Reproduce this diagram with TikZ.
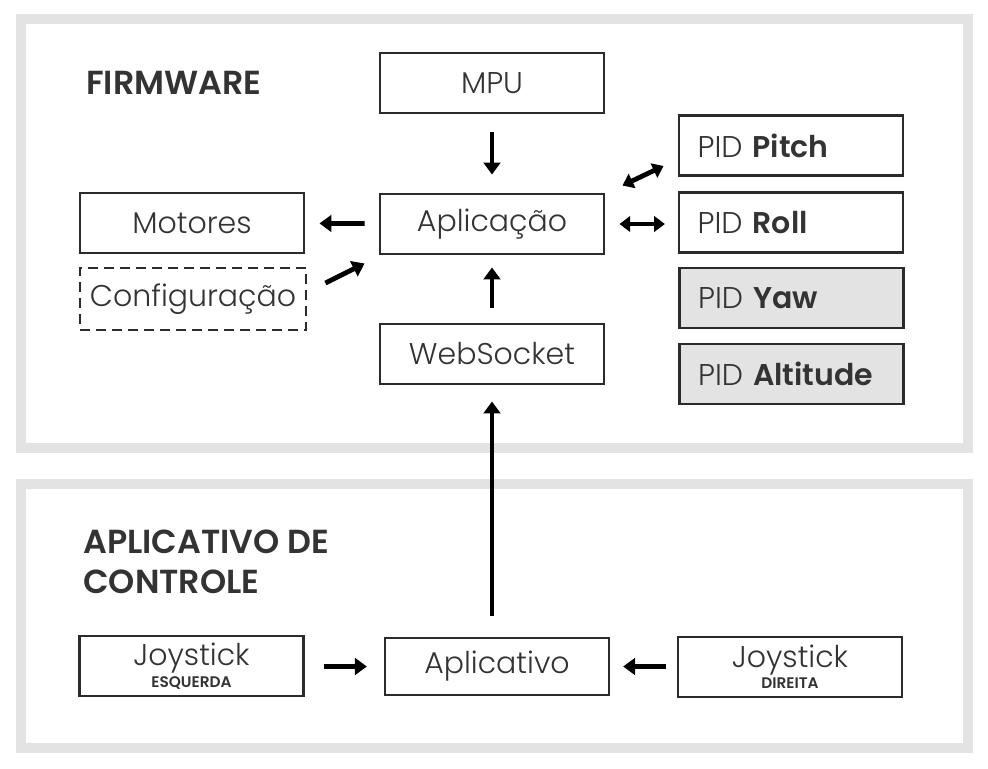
\documentclass[tikz,border=0pt]{standalone}
\usepackage{fontspec}
\setmainfont{Poppins}[UprightFont={* Light}, BoldFont={* SemiBold}]
\usepackage{tikz}
\usetikzlibrary{calc, arrows.meta}

\definecolor{panelgray}{HTML}{E3E3E3}
\definecolor{boxline}{HTML}{2B2B2B}
\definecolor{txt}{HTML}{333333}
\newcommand{\lado}[1]{{\fontsize{11.5}{12}\selectfont\bfseries #1}}

\begin{document}
\begin{tikzpicture}[x=0.75pt, y=-0.75pt,
    panel/.style={draw=panelgray, line width=7.5pt},
    block/.style={draw=boxline, line width=2.2pt, minimum width=168pt, minimum height=45pt,
        inner sep=0pt, text=txt, font=\fontsize{22.5}{26}\selectfont},
    pid/.style={block, text width=140pt, inner xsep=14pt, align=left},
    title/.style={text=txt, font=\fontsize{25}{30}\selectfont\bfseries, align=left, inner sep=0pt},
    arr/.style={line width=3.6pt, -{Triangle[length=9pt, width=12.5pt]}},
    darr/.style={line width=3.6pt, {Triangle[length=8pt, width=11.5pt]}-{Triangle[length=8pt, width=11.5pt]}}]
    \useasboundingbox (0,0) rectangle (988,768);

    % fundo dos dois blocos
    \draw[panel] (21,19) rectangle (968,448);
    \draw[panel] (21,484) rectangle (968,748);

    \node[title, anchor=west] (fw) at (86,83) {FIRMWARE};
    \node[title, anchor=west] (ctl) at (83,562) {APLICATIVO DE\\CONTROLE};

    % firmware
    \node[block] (mpu) at (492,83) {MPU};
    \node[block] (app) at (492,224) {Aplica\c{c}\~ao};
    \node[block] (ws) at (492,354) {WebSocket};
    \node[block] (mot) at (192,223) {Motores};
    \node[block, dashed, dash pattern=on 7.5pt off 4.5pt, minimum width=169.5pt, minimum height=46.5pt]
        (cfg) at (193,299) {Configura\c{c}\~ao};

    \node[pid] (pitch) at (791,145.5) {PID \textbf{Pitch}};
    \node[pid] (roll) at (791,222.5) {PID \textbf{Roll}};
    \node[pid, fill=panelgray] (yaw) at (791.5,298) {PID \textbf{Yaw}};
    \node[pid, fill=panelgray] (alt) at (791.5,374) {PID \textbf{Altitude}};

    % aplicativo
    \node[block, align=center] (joye) at (191.5,666) {Joystick\\[-10pt]\lado{ESQUERDA}};
    \node[block, minimum height=42.75pt] (apv) at (497,666.5) {Aplicativo};
    \node[block, align=center] (joyd) at (790,667) {Joystick\\[-10pt]\lado{DIREITA}};

    % setas
    \draw[arr, shorten <=13.5pt, shorten >=13.5pt] (mpu) -- (app);
    \draw[arr, shorten <=10.5pt, shorten >=10.5pt] (app) -- (mot);
    \draw[arr] ($(cfg.east)+(18,-16)$) -- ($(app.south west)+(-14,8)$);
    \draw[darr, shorten <=10.5pt, shorten >=9.5pt] (app.east) -- (roll.west |- app.east);
    \draw[darr] ($(app.north east)+(17,-7)$) -- ($(pitch.south west)+(-14,-11)$);
    \draw[arr, shorten <=11pt, shorten >=9pt] (ws) -- (app);
    \draw[arr, shorten <=15.5pt, shorten >=12pt] (apv.north -| ws.south) -- (ws.south);
    \draw[arr, shorten <=14pt, shorten >=12.5pt] (joye.east |- apv.west) -- (apv.west);
    \draw[arr, shorten <=8pt, shorten >=9.5pt] (joyd.west |- apv.east) -- (apv.east);
\end{tikzpicture}
\end{document}
